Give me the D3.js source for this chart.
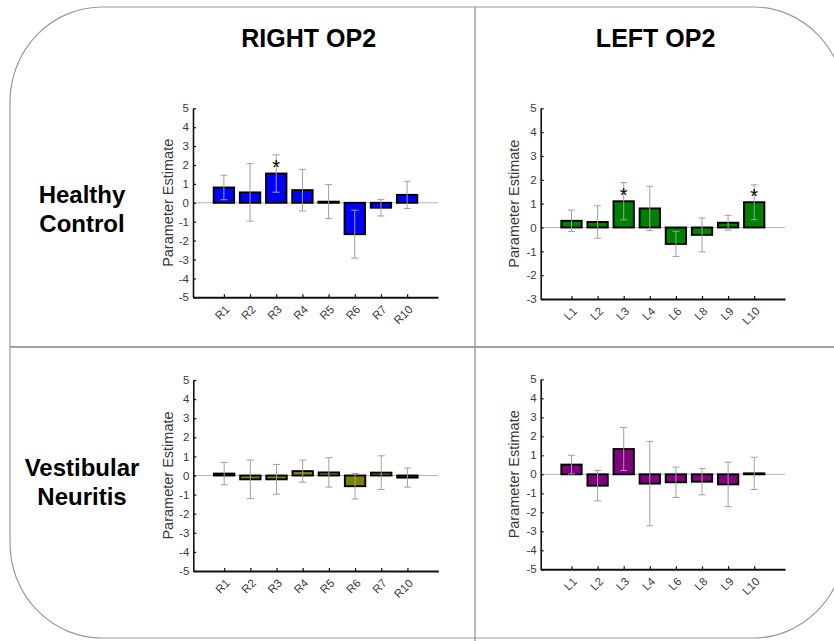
<!DOCTYPE html>
<html><head><meta charset="utf-8">
<script src="https://cdn.jsdelivr.net/npm/d3@7"></script>
<style>body{margin:0;background:#fff}svg{display:block}</style>
</head><body>
<script>
// ---- data ----
const rightCats = ["R1","R2","R3","R4","R5","R6","R7","R10"];
const leftCats  = ["L1","L2","L3","L4","L6","L8","L9","L10"];

const hcRightVals = [0.81, 0.55, 1.55, 0.67, 0.06, -1.66, -0.26, 0.42];
const hcRightErr  = [0.65, 1.52, 0.99, 1.10, 0.90, 1.27, 0.44, 0.72];
const hcRightSig  = [0, 0, 1, 0, 0, 0, 0, 0];

const hcLeftVals  = [0.28, 0.23, 1.10, 0.80, -0.69, -0.31, 0.20, 1.06];
const hcLeftErr   = [0.45, 0.68, 0.78, 0.93, 0.53, 0.71, 0.31, 0.73];
const hcLeftSig   = [0, 0, 1, 0, 0, 0, 0, 1];

const vnRightVals = [0.10, -0.20, -0.20, 0.23, 0.16, -0.56, 0.15, -0.11];
const vnRightErr  = [0.59, 1.01, 0.78, 0.58, 0.77, 0.67, 0.88, 0.50];
const vnRightSig  = [0, 0, 0, 0, 0, 0, 0, 0];

const vnLeftVals  = [0.51, -0.60, 1.33, -0.49, -0.42, -0.39, -0.53, 0.05];
const vnLeftErr   = [0.49, 0.80, 1.13, 2.22, 0.80, 0.69, 1.17, 0.85];
const vnLeftSig   = [0, 0, 0, 0, 0, 0, 0, 0];

const colTitles = ["RIGHT OP2", "LEFT OP2"];
const rowTitles = [["Healthy","Control"], ["Vestibular","Neuritis"]];
const yLabel = "Parameter Estimate";

// ---- layout ----
const W = 834, H = 641;
const svg = d3.select("body").append("svg").attr("width", W).attr("height", H);

// frame (open on the right, where it runs off the picture)
{
  const L = 10, R = 845, T = 7, B = 638, rx = 92, ry = 95;
  const d = `M${R},${T + ry} A${rx},${ry} 0 0 0 ${R - rx},${T} L${L + rx},${T} ` +
            `A${rx},${ry} 0 0 0 ${L},${T + ry} L${L},${B - ry} ` +
            `A${rx},${ry} 0 0 0 ${L + rx},${B} L${R - rx},${B} ` +
            `A${rx},${ry} 0 0 0 ${R},${B - ry}`;
  svg.append("path").attr("d", d).attr("fill", "none").attr("stroke", "#9a9a9a").attr("stroke-width", 1.2);
}
svg.append("line").attr("x1", 475).attr("x2", 475).attr("y1", 7).attr("y2", H)
  .attr("stroke", "#8a8a8a").attr("stroke-width", 1.2);
svg.append("line").attr("x1", 10).attr("x2", W).attr("y1", 347).attr("y2", 347)
  .attr("stroke", "#a0a0a0").attr("stroke-width", 1.8);

// titles
const titleFont = "'Liberation Sans', Arial, sans-serif";
[308.7, 655.6].forEach((cx, i) => {
  svg.append("text").attr("x", cx).attr("y", 47).attr("text-anchor", "middle")
    .attr("font-family", titleFont).attr("font-weight", "bold").attr("font-size", 25)
    .attr("fill", "#000").text(colTitles[i]);
});
[[203, 232], [475.7, 505]].forEach((ys, r) => {
  ys.forEach((y, k) => {
    svg.append("text").attr("x", 82).attr("y", y).attr("text-anchor", "middle")
      .attr("font-family", titleFont).attr("font-weight", "bold").attr("font-size", 24)
      .attr("fill", "#000").text(rowTitles[r][k]);
  });
});

const panels = [
  {cats: rightCats, vals: hcRightVals, err: hcRightErr, sig: hcRightSig, color: "#0000ff",
   x0: 193, x1: 438, yTop: 108.3, yBot: 297.3, yMin: -5, labX: 168},
  {cats: leftCats, vals: hcLeftVals, err: hcLeftErr, sig: hcLeftSig, color: "#008000",
   x0: 540.7, x1: 785, yTop: 108.3, yBot: 299, yMin: -3, labX: 514},
  {cats: rightCats, vals: vnRightVals, err: vnRightErr, sig: vnRightSig, color: "#808000",
   x0: 193.3, x1: 438.3, yTop: 380, yBot: 571, yMin: -5, labX: 168},
  {cats: leftCats, vals: vnLeftVals, err: vnLeftErr, sig: vnLeftSig, color: "#800080",
   x0: 540.7, x1: 785, yTop: 379.3, yBot: 569.3, yMin: -5, labX: 514}
];

const axFont = "'Liberation Sans', Arial, sans-serif";

panels.forEach(p => {
  const g = svg.append("g");
  const x = d3.scalePoint().domain(p.cats).range([p.x0, p.x1]).padding(1.18);
  const y = d3.scaleLinear().domain([p.yMin, 5]).range([p.yBot, p.yTop]);
  const bw = x.step() * 0.78;
  const data = p.cats.map((c, i) => ({c, v: p.vals[i], e: p.err[i], s: p.sig[i]}));

  // zero line
  g.append("line").attr("x1", p.x0).attr("x2", p.x1).attr("y1", y(0)).attr("y2", y(0))
    .attr("stroke", "#b5b5b5").attr("stroke-width", 1);

  // bars
  g.selectAll("rect.bar").data(data).join("rect").attr("class", "bar")
    .attr("x", d => x(d.c) - bw / 2).attr("width", bw)
    .attr("y", d => y(Math.max(0, d.v))).attr("height", d => Math.abs(y(d.v) - y(0)))
    .attr("fill", p.color).attr("stroke", "#000").attr("stroke-width", 1.9);

  // error bars
  const eg = g.selectAll("g.err").data(data).join("g").attr("class", "err")
    .attr("stroke", "#a0a0a0").attr("stroke-width", 1);
  eg.append("line").attr("x1", d => x(d.c)).attr("x2", d => x(d.c))
    .attr("y1", d => y(d.v + d.e)).attr("y2", d => y(d.v - d.e));
  eg.append("line").attr("x1", d => x(d.c) - 3.5).attr("x2", d => x(d.c) + 3.5)
    .attr("y1", d => y(d.v + d.e)).attr("y2", d => y(d.v + d.e));
  eg.append("line").attr("x1", d => x(d.c) - 3.5).attr("x2", d => x(d.c) + 3.5)
    .attr("y1", d => y(d.v - d.e)).attr("y2", d => y(d.v - d.e));

  // significance stars
  g.selectAll("text.star").data(data.filter(d => d.s)).join("text").attr("class", "star")
    .attr("x", d => x(d.c)).attr("y", d => y(Math.max(0, d.v)) - 11 + 11.4)
    .attr("text-anchor", "middle").attr("font-family", axFont).attr("font-size", 20)
    .attr("fill", "#000").text("*");

  // y axis
  const ya = g.append("g").attr("transform", `translate(${p.x0},0)`)
    .call(d3.axisLeft(y).ticks(5 - p.yMin).tickFormat(d3.format("d")).tickSizeInner(-3).tickSizeOuter(0).tickPadding(4));
  ya.select(".domain").attr("stroke", "#111").attr("stroke-width", 1.6);
  ya.selectAll(".tick line").attr("stroke", "#111").attr("stroke-width", 1.2);
  ya.selectAll("text").attr("font-family", axFont).attr("font-size", 11.5).attr("fill", "#3a3a3a")
    .text(d => d < 0 ? "-" + Math.abs(d) : d);

  // x axis
  const xa = g.append("g").attr("transform", `translate(0,${p.yBot})`)
    .call(d3.axisBottom(x).tickSizeInner(-3).tickSizeOuter(0));
  xa.select(".domain").attr("stroke", "#111").attr("stroke-width", 2);
  xa.selectAll(".tick line").attr("stroke", "#111").attr("stroke-width", 1.2);
  xa.selectAll("text").attr("font-family", axFont).attr("font-size", 11.5).attr("fill", "#3a3a3a")
    .attr("x", 0).attr("y", 0).attr("dy", "0.35em").attr("text-anchor", "end")
    .attr("transform", "translate(3,10) rotate(-45)");

  // y label
  g.append("text").attr("transform", `translate(${p.labX},${(p.yTop + p.yBot) / 2}) rotate(-90)`)
    .attr("text-anchor", "middle").attr("dy", "0.35em").attr("font-family", axFont)
    .attr("font-size", 14.5).attr("fill", "#3a3a3a").text(yLabel);
});
</script>
</body></html>
